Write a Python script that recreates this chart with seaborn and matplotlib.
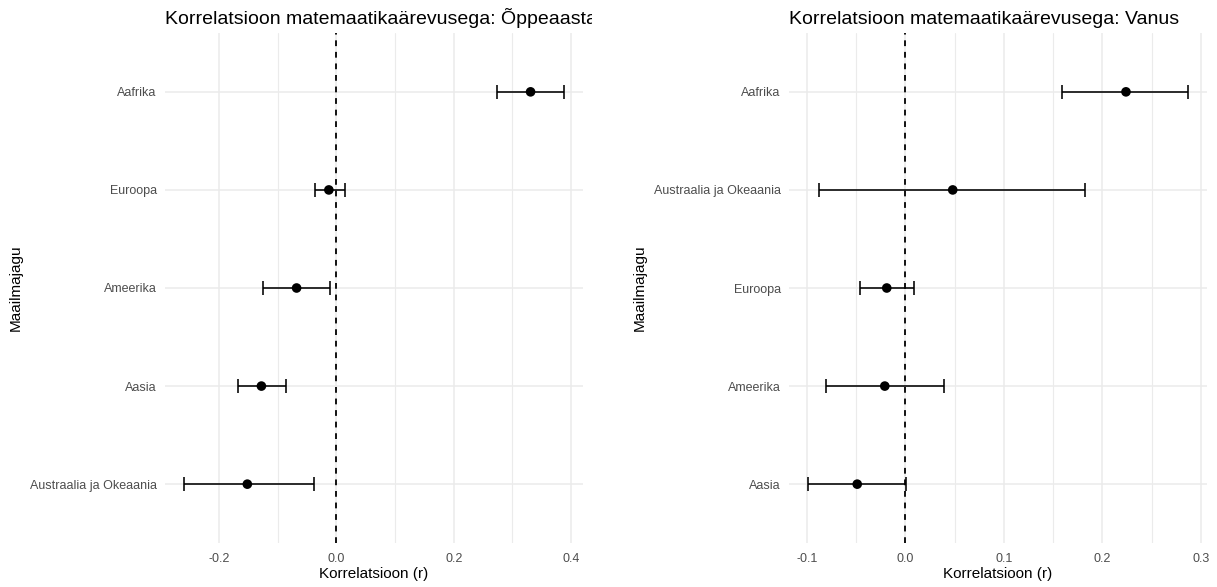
import numpy as np
import pandas as pd
import matplotlib
matplotlib.use("Agg")
import matplotlib.pyplot as plt
from matplotlib.transforms import Bbox, TransformedBbox
from matplotlib.ticker import FixedLocator, FormatStrFormatter
import seaborn as sns

# Correlation with math anxiety by continent: school year
regions_year = ["Aafrika", "Euroopa", "Ameerika", "Aasia", "Austraalia ja Okeaania"]
r_year = [0.331, -0.013, -0.068, -0.128, -0.152]
lo_year = [0.274, -0.037, -0.125, -0.168, -0.260]
hi_year = [0.388, 0.014, -0.011, -0.086, -0.039]

# Correlation with math anxiety by continent: age
regions_age = ["Aafrika", "Austraalia ja Okeaania", "Euroopa", "Ameerika", "Aasia"]
r_age = [0.224, 0.048, -0.019, -0.021, -0.049]
lo_age = [0.159, -0.088, -0.046, -0.081, -0.099]
hi_age = [0.287, 0.182, 0.009, 0.039, 0.001]

title_year = "Korrelatsioon matemaatikaärevusega: Õppeaasta"
title_age = "Korrelatsioon matemaatikaärevusega: Vanus"
x_label = "Korrelatsioon (r)"
y_label = "Maailmajagu"

ticks_year = [-0.2, 0.0, 0.2, 0.4]
minor_year = [-0.1, 0.1, 0.3]
ticks_age = [-0.1, 0.0, 0.1, 0.2, 0.3]
minor_age = [-0.05, 0.05, 0.15, 0.25]

sns.set_theme(style="white")
plt.rcParams["font.family"] = ["Liberation Sans", "DejaVu Sans"]
plt.rcParams["axes.unicode_minus"] = False

W, H = 1217, 587
fig = plt.figure(figsize=(W / 100, H / 100), dpi=100)
fig.patch.set_facecolor("white")

GRID = "#EBEBEB"


def panel(rect, regions, r, lo, hi, major, minor, title, clip_right):
    ax = fig.add_axes(rect)
    df = pd.DataFrame({"region": regions, "r": r, "lo": lo, "hi": hi})
    n = len(regions)

    ax.axvline(0, color="black", lw=1.3, ls=(0, (3.2, 3.2)), zorder=2)
    ax.errorbar(df["r"], df["region"],
                xerr=[df["r"] - df["lo"], df["hi"] - df["r"]],
                fmt="none", ecolor="black", elinewidth=1.15, capsize=5,
                capthick=1.15, zorder=3)
    sns.scatterplot(data=df, x="r", y="region", color="black", s=48,
                    edgecolor="none", ax=ax, zorder=4)

    span = max(hi) - min(lo)
    ax.set_xlim(min(lo) - 0.05 * span, max(hi) + 0.05 * span)
    ax.set_ylim(n - 1 + 0.6, -0.6)

    ax.xaxis.set_major_locator(FixedLocator(major))
    ax.xaxis.set_minor_locator(FixedLocator(minor))
    ax.xaxis.set_major_formatter(FormatStrFormatter("%.1f"))
    ax.grid(True, which="major", axis="both", color=GRID, lw=1.1, zorder=0)
    ax.grid(True, which="minor", axis="x", color=GRID, lw=0.8, zorder=0)
    ax.set_axisbelow(True)
    for s in ax.spines.values():
        s.set_visible(False)
    ax.tick_params(axis="both", which="both", length=0, colors="#4D4D4D",
                   labelsize=9)
    ax.tick_params(axis="x", pad=7)
    ax.tick_params(axis="y", pad=6)

    ax.set_xlabel(x_label, fontsize=11, color="black")
    ax.set_ylabel(y_label, fontsize=11, color="black")
    ax.xaxis.set_label_coords(0.5, -0.048)
    ax.yaxis.label.set_va("center")
    ax.yaxis.set_label_coords(-0.358, 0.5)

    x0 = rect[0]
    t = fig.text(x0, 1 - 23.5 / H, title, ha="left", va="baseline",
                 fontsize=14, color="black")
    if clip_right is not None:
        t.set_clip_box(TransformedBbox(Bbox([[0, 0], [clip_right / W, 1]]),
                                       fig.transFigure))
        t.set_clip_on(True)
    return ax


bottom = (H - 543) / H
height = 510 / H
width = 418 / W
panel([165 / W, bottom, width, height], regions_year, r_year, lo_year, hi_year,
      ticks_year, minor_year, title_year, 592)
panel([789 / W, bottom, width, height], regions_age, r_age, lo_age, hi_age,
      ticks_age, minor_age, title_age, None)

fig.savefig("out.png", dpi=100, facecolor="white")
